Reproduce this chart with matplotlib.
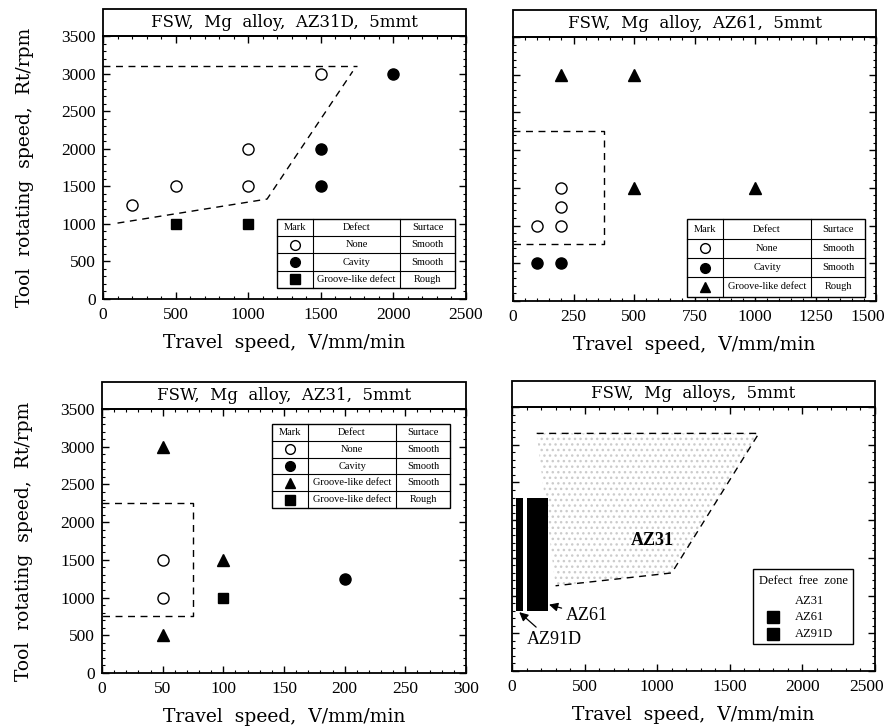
import numpy as np
import matplotlib
matplotlib.use("Agg")
import matplotlib.pyplot as plt
from matplotlib.patches import Rectangle
from matplotlib.ticker import MultipleLocator, FuncFormatter

plt.rcParams['font.family'] = ['Liberation Serif', 'DejaVu Serif']

# --- data ---
# AZ31D
az31d_none_v = [200, 500, 1000, 1000, 1500]
az31d_none_r = [1250, 1500, 1500, 2000, 3000]
az31d_cav_v = [1500, 1500, 2000]
az31d_cav_r = [1500, 2000, 3000]
az31d_groove_v = [500, 1000]
az31d_groove_r = [1000, 1000]
az31d_top_v = [0, 1750]
az31d_top_r = [3100, 3100]
az31d_low_v = [100, 1130, 1720]
az31d_low_r = [1010, 1330, 3030]

# AZ61
az61_tri_v = [200, 500, 500, 1000]
az61_tri_r = [3000, 3000, 1500, 1500]
az61_none_v = [100, 200, 200, 200]
az61_none_r = [1000, 1000, 1250, 1500]
az61_cav_v = [100, 200]
az61_cav_r = [500, 500]
az61_box_v = [0, 375, 375, 0]
az61_box_r = [2250, 2250, 750, 750]

# AZ31
az31_tri_v = [50, 100, 50]
az31_tri_r = [3000, 1500, 500]
az31_none_v = [50, 50]
az31_none_r = [1500, 1000]
az31_cav_v = [200]
az31_cav_r = [1250]
az31_sq_v = [100]
az31_sq_r = [1000]
az31_box_v = [0, 75, 75, 0]
az31_box_r = [2250, 2250, 750, 750]

# all alloys, defect free zones
zone31_v = [170, 1700, 1100, 300]
zone31_r = [3150, 3150, 1300, 1130]
zone61_v = [100, 250]
zone61_r = [800, 2300]
zone91_v = [25, 75]
zone91_r = [800, 2300]

titles = ["FSW,  Mg  alloy,  AZ31D,  5mmt", "FSW,  Mg  alloy,  AZ61,  5mmt",
          "FSW,  Mg  alloy,  AZ31,  5mmt", "FSW,  Mg  alloys,  5mmt"]
xlabel = "Travel  speed,  V/mm/min"
ylabel = "Tool  rotating  speed,  Rt/rpm"

W, H = 888, 727
fig = plt.figure(figsize=(W / 100, H / 100), dpi=100)


def make_ax(left, right, top, bottom):
    return fig.add_axes([left / W, 1 - bottom / H, (right - left) / W, (bottom - top) / H])


def style(ax, xmax, xmaj, xmin, title, ylab, head, shift_last=0):
    ax.set_xlim(0, xmax)
    ax.set_ylim(0, 3500)
    ax.xaxis.set_major_locator(MultipleLocator(xmaj))
    ax.xaxis.set_minor_locator(MultipleLocator(xmin))
    ax.yaxis.set_major_locator(MultipleLocator(500))
    ax.yaxis.set_minor_locator(MultipleLocator(100))
    ax.tick_params(which='both', direction='in', top=True, right=True, labelsize=12.5)
    ax.tick_params(which='major', length=5, width=1)
    ax.tick_params(which='minor', length=2.5, width=0.8)
    ax.tick_params(axis='x', pad=6)
    ax.tick_params(axis='y', pad=5)
    for s in ax.spines.values():
        s.set_linewidth(1.3)
    ax.set_xlabel(xlabel, family='DejaVu Serif', fontsize=13.5, labelpad=8)
    if ylab:
        ax.set_ylabel(ylabel, family='DejaVu Serif', fontsize=13.5, labelpad=20)
    else:
        ax.tick_params(axis='y', labelleft=False)
    if shift_last:
        # last tick label drawn slightly inward so it stays inside the figure
        ax.xaxis.set_major_formatter(FuncFormatter(lambda v, p: '' if v >= xmax else f'{v:g}'))
        ax.annotate(f'{xmax:g}', xy=(1, 0), xycoords='axes fraction', xytext=(-shift_last, -6),
                    textcoords='offset points', ha='center', va='top', fontsize=12.5)
    ax.add_patch(Rectangle((0, 1), 1, head, transform=ax.transAxes, clip_on=False,
                           facecolor='white', edgecolor='black', lw=1.3))
    ax.text(0.5, 1 + head / 2, title, transform=ax.transAxes, ha='center', va='center',
            family='DejaVu Serif', fontsize=12)


def table(ax, box, splits, rows):
    x0, y0, x1, y1 = box
    n = len(rows) + 1
    ax.add_patch(Rectangle((x0, y0), x1 - x0, y1 - y0, transform=ax.transAxes,
                           facecolor='white', edgecolor='black', lw=1, zorder=5))
    h = (y1 - y0) / n
    for i in range(1, n):
        ax.plot([x0, x1], [y1 - i * h] * 2, transform=ax.transAxes, color='k', lw=0.8, zorder=6)
    for s in splits:
        ax.plot([s, s], [y0, y1], transform=ax.transAxes, color='k', lw=0.8, zorder=6)
    cx = [(x0 + splits[0]) / 2, (splits[0] + splits[1]) / 2, (splits[1] + x1) / 2]
    yc = y1 - h / 2
    for t, c in zip(["Mark", "Defect", "Surtace"], cx):
        ax.text(c, yc, t, transform=ax.transAxes, ha='center', va='center', fontsize=7.5, zorder=7)
    for i, (mk, fc, defect, surf) in enumerate(rows):
        yc = y1 - (i + 1.5) * h
        ax.plot([cx[0]], [yc], marker=mk, ms=7 if mk == 'o' else 7.5, mfc=fc, mec='k', mew=1,
                transform=ax.transAxes, clip_on=False, zorder=7)
        ax.text(cx[1], yc, defect, transform=ax.transAxes, ha='center', va='center', fontsize=7.5, zorder=7)
        ax.text(cx[2], yc, surf, transform=ax.transAxes, ha='center', va='center', fontsize=7.5, zorder=7)


dash = dict(color='k', lw=1, linestyle=(0, (5, 4)))
pt = dict(linestyle='none', mec='k', mew=1, clip_on=False, zorder=4)

# top-left: AZ31D
ax1 = make_ax(103, 466, 36, 299)
style(ax1, 2500, 500, 100, titles[0], True, 27 / 263)
ax1.plot(az31d_top_v, az31d_top_r, **dash)
ax1.plot(az31d_low_v, az31d_low_r, **dash)
ax1.plot(az31d_none_v, az31d_none_r, marker='o', ms=8, mfc='white', **pt)
ax1.plot(az31d_cav_v, az31d_cav_r, marker='o', ms=8, mfc='black', **pt)
ax1.plot(az31d_groove_v, az31d_groove_r, marker='s', ms=7.5, mfc='black', **pt)
table(ax1, (0.479, 0.042, 0.970, 0.305), (0.579, 0.818),
      [('o', 'white', 'None', 'Smooth'), ('o', 'black', 'Cavity', 'Smooth'),
       ('s', 'black', 'Groove-like defect', 'Rough')])

# top-right: AZ61
ax2 = make_ax(513, 876, 37, 301)
style(ax2, 1500, 250, 50, titles[1], False, 27 / 264, shift_last=6)
ax2.plot(az61_box_v, az61_box_r, **dash)
ax2.plot(az61_tri_v, az61_tri_r, marker='^', ms=9, mfc='black', **pt)
ax2.plot(az61_none_v, az61_none_r, marker='o', ms=8, mfc='white', **pt)
ax2.plot(az61_cav_v, az61_cav_r, marker='o', ms=8, mfc='black', **pt)
table(ax2, (0.479, 0.017, 0.970, 0.309), (0.579, 0.821),
      [('o', 'white', 'None', 'Smooth'), ('o', 'black', 'Cavity', 'Smooth'),
       ('^', 'black', 'Groove-like defect', 'Rough')])

# bottom-left: AZ31
ax3 = make_ax(102, 466, 409, 673)
style(ax3, 300, 50, 10, titles[2], True, 27 / 264)
ax3.plot(az31_box_v, az31_box_r, **dash)
ax3.plot(az31_tri_v, az31_tri_r, marker='^', ms=9, mfc='black', **pt)
ax3.plot(az31_none_v, az31_none_r, marker='o', ms=8, mfc='white', **pt)
ax3.plot(az31_cav_v, az31_cav_r, marker='o', ms=8, mfc='black', **pt)
ax3.plot(az31_sq_v, az31_sq_r, marker='s', ms=7.5, mfc='black', **pt)
table(ax3, (0.467, 0.625, 0.956, 0.943), (0.566, 0.808),
      [('o', 'white', 'None', 'Smooth'), ('o', 'black', 'Cavity', 'Smooth'),
       ('^', 'black', 'Groove-like defect', 'Smooth'),
       ('s', 'black', 'Groove-like defect', 'Rough')])

# bottom-right: all alloys
ax4 = make_ax(512, 875, 407, 671)
style(ax4, 2500, 500, 100, titles[3], False, 26 / 264, shift_last=6)
ax4.fill(zone31_v, zone31_r, facecolor='white', edgecolor='#cccccc', hatch='...', lw=0)
ax4.plot(zone31_v, zone31_r, **dash)
ax4.bar(zone61_v[0], zone61_r[1] - zone61_r[0], width=zone61_v[1] - zone61_v[0],
        bottom=zone61_r[0], align='edge', color='black')
ax4.bar(zone91_v[0], zone91_r[1] - zone91_r[0], width=zone91_v[1] - zone91_v[0],
        bottom=zone91_r[0], align='edge', color='black')
ax4.text(965, 1735, "AZ31", ha='center', va='center', fontsize=13, fontweight='bold')
ax4.annotate("AZ61", xy=(255, 880), xytext=(370, 740), ha='left', va='center', fontsize=13,
             arrowprops=dict(arrowstyle='-|>', color='k', lw=0.9, shrinkA=1, shrinkB=0))
ax4.annotate("AZ91D", xy=(50, 780), xytext=(100, 420), ha='left', va='center', fontsize=13,
             arrowprops=dict(arrowstyle='-|>', color='k', lw=0.9, shrinkA=1, shrinkB=0,
                             relpos=(0.25, 1)))
ax4.add_patch(Rectangle((0.664, 0.102), 0.275, 0.284, transform=ax4.transAxes,
                        facecolor='white', edgecolor='black', lw=1, zorder=5))
ax4.text(0.8015, 0.341, "Defect  free  zone", transform=ax4.transAxes, ha='center', va='center',
         fontsize=9, zorder=6)
for name, y, mk in [("AZ31", 0.265, False), ("AZ61", 0.205, True), ("AZ91D", 0.140, True)]:
    ax4.text(0.780, y, name, transform=ax4.transAxes, ha='left', va='center', fontsize=9, zorder=6)
    if mk:
        ax4.plot([0.719], [y], marker='s', ms=8, mfc='black', mec='black',
                 transform=ax4.transAxes, zorder=6)

fig.savefig("out.png", dpi=100)
